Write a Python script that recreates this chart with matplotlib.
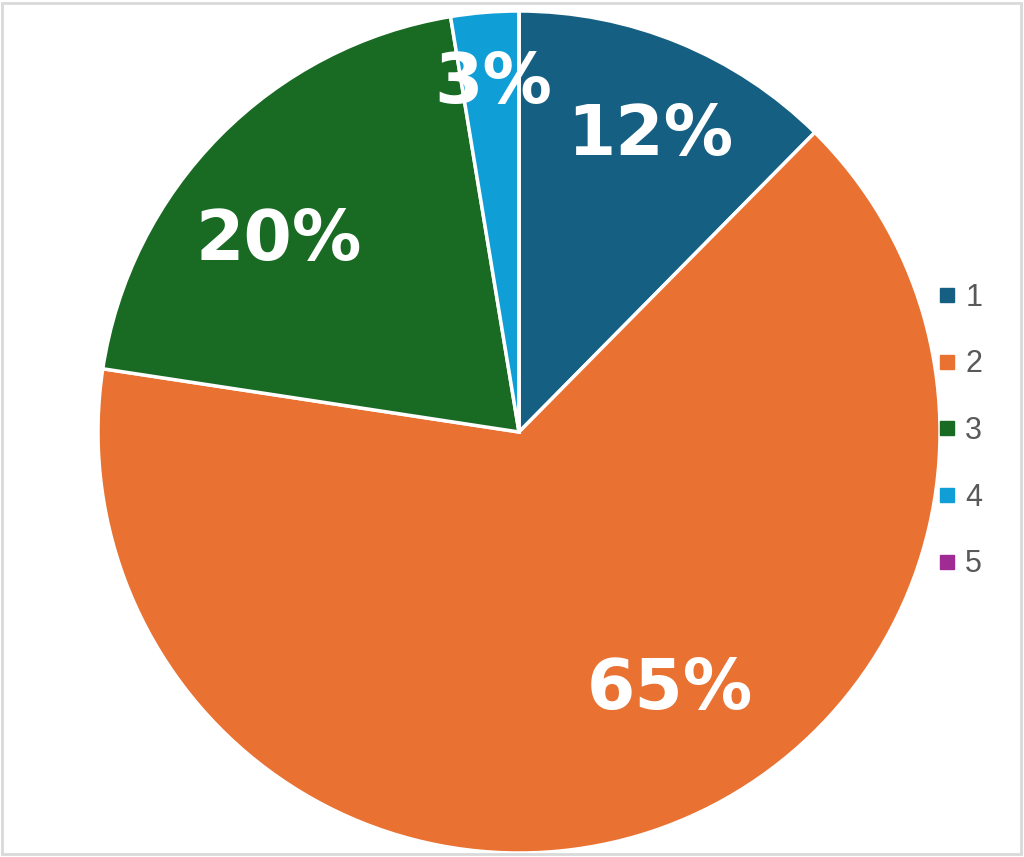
import matplotlib.pyplot as plt
import numpy as np
from matplotlib.lines import Line2D
from matplotlib.patches import Rectangle

categories = ['1', '2', '3', '4', '5']
values = [12.4, 65.0, 20.0, 2.6, 0.0]
colors = ['#156082', '#E97132', '#196B24', '#0F9ED5', '#A02B93']
# label placement: fraction of radius and angle shift from slice middle (deg)
label_dist = [0.77, 0.71, 0.73, 0.83, 0.75]
label_shift = [-1.5, 12.0, 6.0, -0.5, 0.0]

fig = plt.figure(figsize=(10.24, 8.57), dpi=100)
ax = fig.add_axes([0, 0, 1, 1])

cx, cy, r = 519, 857 - 432, 421
wedges, texts, autotexts = ax.pie(
    values, colors=colors, startangle=90, counterclock=False,
    center=(cx, cy), radius=r,
    autopct=lambda p: '%d%%' % round(p) if p > 0 else '',
    pctdistance=0.75,
    wedgeprops=dict(edgecolor='white', linewidth=2.5),
    textprops=dict(color='white', fontsize=50, fontweight='bold', family='DejaVu Sans'))

for w, t, d, s in zip(wedges, autotexts, label_dist, label_shift):
    ang = np.deg2rad((w.theta1 + w.theta2) / 2 + s)
    t.set_position((cx + d * r * np.cos(ang), cy + d * r * np.sin(ang)))
    t.set_ha('center')
    t.set_va('center')

ax.set_xlim(0, 1024)
ax.set_ylim(0, 857)
ax.set_aspect('auto')
ax.axis('off')

handles = [Line2D([], [], marker='s', linestyle='none', markersize=10,
                  markerfacecolor=c, markeredgecolor=c) for c in colors]
fig.legend(handles, categories, loc='center left', bbox_to_anchor=(0.886, 0.497),
           frameon=False, labelcolor='#595959',
           handlelength=0.8, handletextpad=0.2, labelspacing=1.2,
           prop=dict(family='Liberation Sans', size=22))

fig.patches.append(Rectangle((2 / 1024, 3 / 857), 1019 / 1024, 851 / 857,
                             transform=fig.transFigure, fill=False,
                             edgecolor='#d9d9d9', linewidth=2))

fig.savefig('out.png', dpi=100)
